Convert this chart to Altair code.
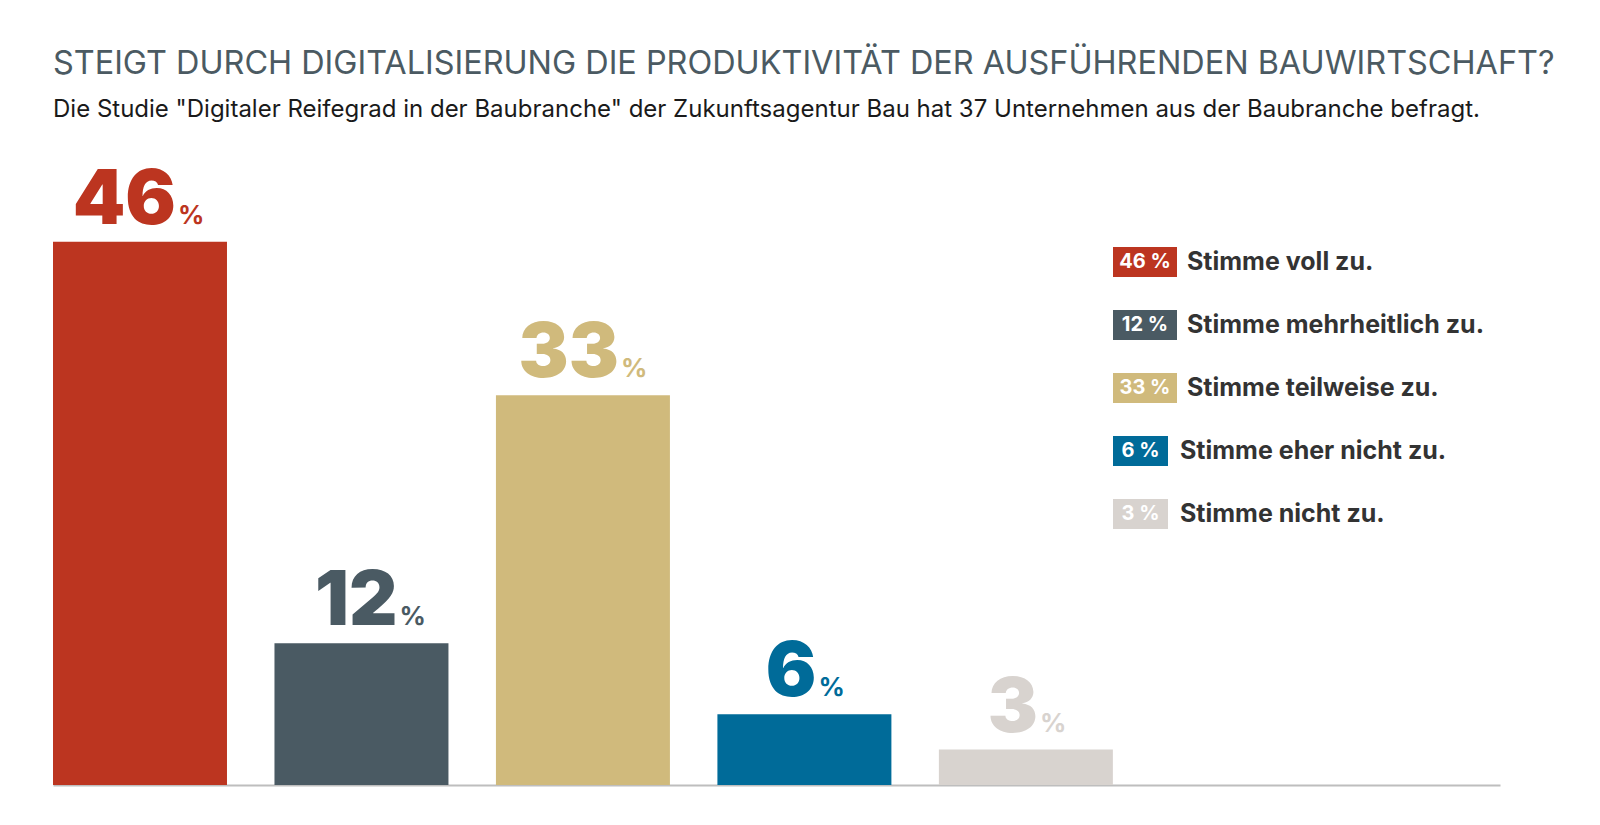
import altair as alt
import pandas as pd

categories = ["Stimme voll zu.", "Stimme mehrheitlich zu.", "Stimme teilweise zu.",
              "Stimme eher nicht zu.", "Stimme nicht zu."]
values = [46, 12, 33, 6, 3]
colors = ["#BC3520", "#4A5A63", "#D0BA7C", "#006B99", "#D8D3CF"]

title_text = "STEIGT DURCH DIGITALISIERUNG DIE PRODUKTIVITÄT DER AUSFÜHRENDEN BAUWIRTSCHAFT?"
subtitle_text = ('Die Studie "Digitaler Reifegrad in der Baubranche" der Zukunftsagentur Bau '
                 'hat 37 Unternehmen aus der Baubranche befragt.')

df = pd.DataFrame({"cat": categories, "value": values})
df["box"] = df["value"].astype(str) + " %"
df["pct"] = "%"

W, H = 1447, 626
FONT = "Inter"

xenc = alt.X("cat:N", sort=categories, axis=alt.Axis(orient="bottom", labels=False, ticks=False, title=None,
             domain=True, domainColor="#BEBEBE", domainWidth=2, grid=False),
             scale=alt.Scale(domain=categories, paddingInner=0.2144, paddingOuter=0.874, align=0))
yq = alt.Y("value:Q", scale=alt.Scale(domain=[0, 53]), axis=None)
cenc = alt.Color("cat:N", scale=alt.Scale(domain=categories, range=colors), legend=None)

base = alt.Chart(df)

bars = base.mark_bar().encode(x=xenc, y=yq, color=cenc)

two = "datum.value >= 10"
one = "datum.value < 10"

num_style = dict(font=FONT, fontSize=75, fontWeight=900, baseline="alphabetic", align="right", dy=-18)
pct_style = dict(font=FONT, fontSize=26, fontWeight=700, baseline="alphabetic", align="left", dy=-18)

num2 = base.transform_filter(two).mark_text(dx=36, **num_style).encode(x=xenc, y=yq, text="value:Q", color=cenc)
num1 = base.transform_filter(one).mark_text(dx=12, **num_style).encode(x=xenc, y=yq, text="value:Q", color=cenc)
pct2 = base.transform_filter(two).mark_text(dx=38, **pct_style).encode(x=xenc, y=yq, text="pct:N", color=cenc)
pct1 = base.transform_filter(one).mark_text(dx=14, **pct_style).encode(x=xenc, y=yq, text="pct:N", color=cenc)

yl = alt.Y("cat:N", sort=categories, axis=None,
           scale=alt.Scale(domain=categories, range=[71.5, 386.5], paddingInner=0.52, paddingOuter=0.26))

box2 = base.transform_filter(two).mark_rect().encode(
    x=alt.value(1060), x2=alt.value(1124), y=yl, color=cenc)
box1 = base.transform_filter(one).mark_rect().encode(
    x=alt.value(1060), x2=alt.value(1115), y=yl, color=cenc)

bt_style = dict(font=FONT, fontSize=20, fontWeight=700, color="white", align="center", baseline="middle")
btxt2 = base.transform_filter(two).mark_text(**bt_style).encode(x=alt.value(1092), y=yl, text="box:N")
btxt1 = base.transform_filter(one).mark_text(**bt_style).encode(x=alt.value(1087.5), y=yl, text="box:N")

lt_style = dict(font=FONT, fontSize=25, fontWeight=700, color="#333333", align="left", baseline="middle")
ltxt2 = base.transform_filter(two).mark_text(**lt_style).encode(x=alt.value(1134), y=yl, text="cat:N")
ltxt1 = base.transform_filter(one).mark_text(**lt_style).encode(x=alt.value(1127), y=yl, text="cat:N")

chart = alt.layer(
    bars, num2, num1, pct2, pct1, box2, box1, btxt2, btxt1, ltxt2, ltxt1
).resolve_scale(y="independent").properties(
    width=W, height=H,
    background="white",
    title=alt.TitleParams(
        text=title_text, subtitle=subtitle_text, anchor="start", frame="group",
        font=FONT, fontSize=32.4, fontWeight=400, color="#4B5A62",
        subtitleFont=FONT, subtitleFontSize=24, subtitleColor="#1A1A1A",
        subtitlePadding=18, offset=37,
    ),
    padding={"left": 53, "top": 47, "right": 0, "bottom": 25},
).configure_view(stroke=None)

chart.save("out.html", embed_options={"renderer": "svg", "actions": False})
